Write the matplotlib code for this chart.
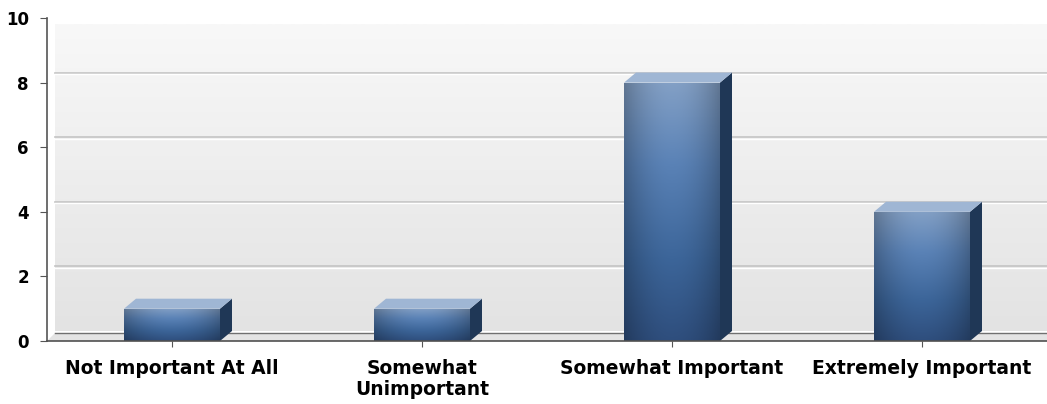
import numpy as np
import matplotlib.pyplot as plt
from matplotlib.patches import Polygon
from matplotlib.colors import LinearSegmentedColormap

categories = ['Not Important At All', 'Somewhat\nUnimportant', 'Somewhat Important', 'Extremely Important']
counts = [1, 1, 8, 4]
y_ticks = [0, 2, 4, 6, 8, 10]

plt.rcParams['font.family'] = ['DejaVu Sans']

fig = plt.figure(figsize=(10.47, 4.04), dpi=100)
ax = fig.add_axes([47 / 1047, 63 / 404, 1000 / 1047, 323 / 404])

x = np.arange(len(categories))
width = 0.384
dx, dy = 0.048, 0.31   # 3D depth offset

# back wall with soft vertical gradient
wall = np.linspace(0, 1, 256).reshape(-1, 1)
wall_cmap = LinearSegmentedColormap.from_list('wall', ['#e3e3e3', '#f8f8f8'])
ax.imshow(wall, extent=[-0.5 + 0.032, 3.5, dy, 9.8], origin='lower',
          aspect='auto', cmap=wall_cmap, zorder=0)

# grid lines on the back wall
for t in y_ticks[1:-1]:
    ax.plot([-0.5 + 0.032, 3.5], [t + dy, t + dy], color='#c4c4c4', lw=1.2, zorder=1)
    ax.plot([-0.5 + 0.032, 3.5], [t + dy - 0.05, t + dy - 0.05], color='#ffffff', lw=1.0, zorder=1)

# floor
floor = Polygon([(-0.5, 0), (3.5, 0), (3.5, dy * 0.8), (-0.5 + 0.032, dy * 0.8)],
                closed=True, facecolor='#e4e4e4', edgecolor='none', zorder=1)
ax.add_patch(floor)
ax.plot([-0.5 + 0.032, 3.5], [dy * 0.8, dy * 0.8], color='#707070', lw=1.0, zorder=1)

bars = ax.bar(x, counts, width=width, color='#4a72a8', edgecolor='none', zorder=3)

front_cmap = LinearSegmentedColormap.from_list(
    'front', ['#2c4a78', '#3c6599', '#5a82b6', '#8aa5c8'])
for b, v in zip(bars, counts):
    x0 = b.get_x()
    x1 = x0 + b.get_width()
    g = np.linspace(0, 1, 200).reshape(-1, 1)
    horiz = 1 - 0.25 * np.abs(np.linspace(-1, 1, 60)) ** 2
    img = front_cmap(np.clip(g * 0.9 + 0.05, 0, 1))[:, None, 0, :] * np.ones((1, 60, 1))
    img[..., :3] *= horiz[None, :, None]
    im = ax.imshow(img, extent=[x0, x1, 0, v], origin='lower', aspect='auto', zorder=4)
    im.set_clip_path(b)
    # side face
    side = Polygon([(x1, 0), (x1 + dx, dy), (x1 + dx, v + dy), (x1, v)],
                   closed=True, facecolor='#1f3756', edgecolor='none', zorder=4)
    ax.add_patch(side)
    # top face
    top = Polygon([(x0, v), (x0 + dx, v + dy), (x1 + dx, v + dy), (x1, v)],
                  closed=True, facecolor='#9fb6d4', edgecolor='none', zorder=4)
    ax.add_patch(top)

ax.set_xlim(-0.5, 3.5)
ax.set_ylim(0, 10)
ax.set_yticks(y_ticks)
ax.set_xticks(x)
ax.set_xticklabels(categories, fontsize=13.5, fontweight='bold', linespacing=1.15)
ax.tick_params(axis='y', labelsize=12, length=5, color='#555555', pad=8)
ax.tick_params(axis='x', length=4, color='#555555', pad=9)
for lbl in ax.get_yticklabels():
    lbl.set_fontweight('bold')

for s in ['top', 'right']:
    ax.spines[s].set_visible(False)
ax.spines['left'].set_color('#555555')
ax.spines['bottom'].set_color('#505050')
ax.spines['left'].set_linewidth(1.2)
ax.spines['bottom'].set_linewidth(1.2)
ax.spines['bottom'].set_zorder(5)

fig.savefig('out.png', dpi=100)
